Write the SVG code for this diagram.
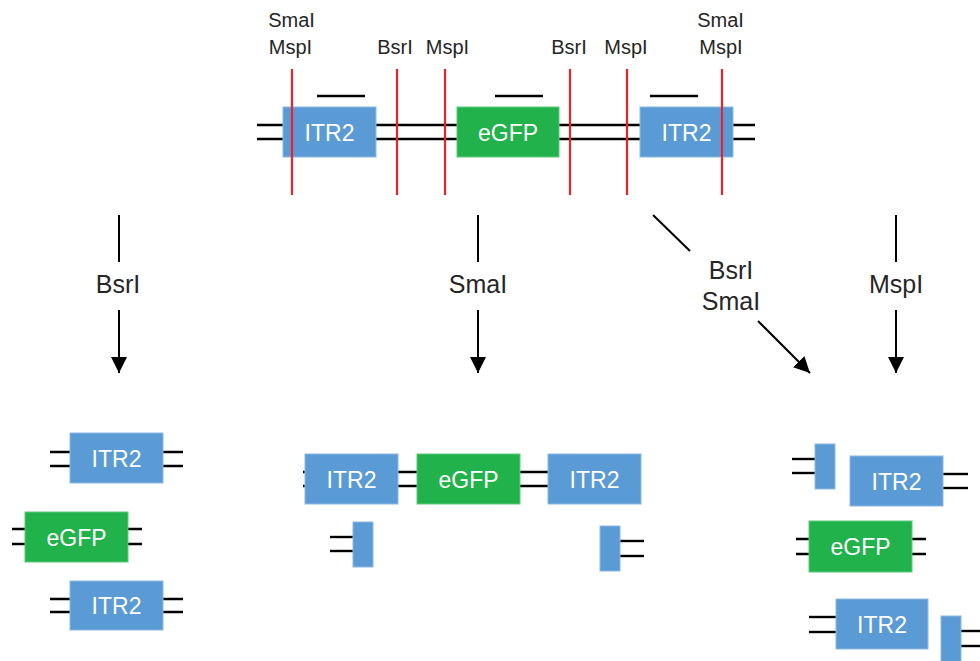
<svg xmlns="http://www.w3.org/2000/svg" width="980" height="661" viewBox="0 0 980 661">
<style>
.itr{fill:#5B9BD5;stroke:#8DB8E2;stroke-width:1}
.gfp{fill:#21B24B;stroke:#5CC97C;stroke-width:1}
.dna{stroke:#000;stroke-width:2.4;fill:none}
.cut{stroke:#EE2128;stroke-width:2.2}
.bar{stroke:#000;stroke-width:2.4}
.arr{stroke:#000;stroke-width:2;fill:none}
.bl{font-family:"Liberation Sans",Arial,sans-serif;font-size:23px;fill:#fff;text-anchor:middle}
.sl{font-family:"Liberation Sans",Arial,sans-serif;font-size:20px;fill:#262626;text-anchor:middle}
.el{font-family:"Liberation Sans",Arial,sans-serif;font-size:25px;fill:#262626;text-anchor:middle}
</style>
<defs>
<marker id="ah2" viewBox="0 0 16 16" markerWidth="16" markerHeight="16" refX="16" refY="8" orient="auto" markerUnits="userSpaceOnUse">
<path d="M0,0 L16,8 L0,16 z" fill="#000"/>
</marker>
</defs>

<g id="connectors">
<line class="arr" x1="119" y1="215" x2="119" y2="262"/>
<line class="arr" x1="119" y1="310" x2="119" y2="373" marker-end="url(#ah2)"/>
<line class="arr" x1="478" y1="215" x2="478" y2="262"/>
<line class="arr" x1="478" y1="310" x2="478" y2="373" marker-end="url(#ah2)"/>
<line class="arr" x1="896" y1="215" x2="896" y2="262"/>
<line class="arr" x1="896" y1="310" x2="896" y2="373" marker-end="url(#ah2)"/>
<line class="arr" x1="653" y1="215" x2="690" y2="251"/>
<line class="arr" x1="758" y1="321" x2="810" y2="373" marker-end="url(#ah2)"/>
</g>

<g id="enzyme-labels">
<text class="el" x="118" y="293">BsrI</text>
<text class="el" x="478" y="293">SmaI</text>
<text class="el" x="896" y="293">MspI</text>
<text class="el" x="731" y="279">BsrI</text>
<text class="el" x="731" y="310">SmaI</text>
</g>

<g id="construct">
<line class="dna" x1="257" y1="125" x2="755" y2="125"/>
<line class="dna" x1="257" y1="139" x2="755" y2="139"/>
<line class="bar" x1="317" y1="96" x2="365" y2="96"/>
<line class="bar" x1="495" y1="96" x2="543" y2="96"/>
<line class="bar" x1="650" y1="96" x2="698" y2="96"/>
<g id="top-itr2-left"><rect class="itr" x="283" y="107" width="93" height="50"/><text class="bl" x="329.5" y="140.5">ITR2</text></g>
<g id="top-egfp"><rect class="gfp" x="457" y="107" width="102" height="50"/><text class="bl" x="508" y="140.5">eGFP</text></g>
<g id="top-itr2-right"><rect class="itr" x="640" y="107" width="93" height="50"/><text class="bl" x="686.5" y="140.5">ITR2</text></g>
<line class="cut" x1="292" y1="69" x2="292" y2="195"/>
<line class="cut" x1="397" y1="69" x2="397" y2="195"/>
<line class="cut" x1="445" y1="69" x2="445" y2="195"/>
<line class="cut" x1="570" y1="69" x2="570" y2="195"/>
<line class="cut" x1="627" y1="69" x2="627" y2="195"/>
<line class="cut" x1="722" y1="69" x2="722" y2="195"/>
<text class="sl" x="291.5" y="27">SmaI</text>
<text class="sl" x="290.5" y="54">MspI</text>
<text class="sl" x="395" y="54">BsrI</text>
<text class="sl" x="447.5" y="54">MspI</text>
<text class="sl" x="569" y="54">BsrI</text>
<text class="sl" x="626" y="54">MspI</text>
<text class="sl" x="720.5" y="27">SmaI</text>
<text class="sl" x="721" y="54">MspI</text>
</g>

<g id="bsri-products">
<g id="b-itr2-1">
<line class="dna" x1="50" y1="452" x2="183" y2="452"/><line class="dna" x1="50" y1="466" x2="183" y2="466"/>
<rect class="itr" x="70" y="433" width="93" height="50"/><text class="bl" x="116.5" y="466.5">ITR2</text></g>
<g id="b-egfp">
<line class="dna" x1="12" y1="529" x2="142" y2="529"/><line class="dna" x1="12" y1="544" x2="142" y2="544"/>
<rect class="gfp" x="25" y="512" width="103" height="50"/><text class="bl" x="76.5" y="545.5">eGFP</text></g>
<g id="b-itr2-2">
<line class="dna" x1="50" y1="599" x2="183" y2="599"/><line class="dna" x1="50" y1="612" x2="183" y2="612"/>
<rect class="itr" x="70" y="581" width="93" height="49"/><text class="bl" x="116.5" y="614">ITR2</text></g>
</g>

<g id="smai-products">
<g id="s-main">
<line class="dna" x1="303" y1="472" x2="548" y2="472"/><line class="dna" x1="303" y1="486" x2="548" y2="486"/>
<rect class="itr" x="305" y="454" width="93" height="50"/><text class="bl" x="351.5" y="487.5">ITR2</text>
<rect class="gfp" x="417" y="454" width="103" height="50"/><text class="bl" x="468.5" y="487.5">eGFP</text>
<rect class="itr" x="548" y="454" width="93" height="50"/><text class="bl" x="594.5" y="487.5">ITR2</text>
</g>
<g id="s-frag-left">
<line class="dna" x1="330" y1="537" x2="353" y2="537"/><line class="dna" x1="330" y1="551" x2="353" y2="551"/>
<rect class="itr" x="353" y="522" width="20" height="45"/></g>
<g id="s-frag-right">
<line class="dna" x1="620" y1="541" x2="644" y2="541"/><line class="dna" x1="620" y1="556" x2="644" y2="556"/>
<rect class="itr" x="600" y="526" width="20" height="45"/></g>
</g>

<g id="combo-products">
<g id="c-frag-1">
<line class="dna" x1="792" y1="459" x2="815" y2="459"/><line class="dna" x1="792" y1="473" x2="815" y2="473"/>
<rect class="itr" x="815" y="444" width="20" height="45"/></g>
<g id="c-itr2-1">
<line class="dna" x1="943" y1="474" x2="968" y2="474"/><line class="dna" x1="943" y1="488" x2="968" y2="488"/>
<rect class="itr" x="850" y="456" width="93" height="50"/><text class="bl" x="896.5" y="489.5">ITR2</text></g>
<g id="c-egfp">
<line class="dna" x1="796" y1="539" x2="926" y2="539"/><line class="dna" x1="796" y1="554" x2="926" y2="554"/>
<rect class="gfp" x="809" y="521" width="103" height="51"/><text class="bl" x="860.5" y="555">eGFP</text></g>
<g id="c-itr2-2">
<line class="dna" x1="809" y1="617" x2="836" y2="617"/><line class="dna" x1="809" y1="632" x2="836" y2="632"/>
<rect class="itr" x="836" y="599" width="92" height="50"/><text class="bl" x="882" y="632.5">ITR2</text></g>
<g id="c-frag-2">
<line class="dna" x1="961" y1="631" x2="980" y2="631"/><line class="dna" x1="961" y1="646" x2="980" y2="646"/>
<rect class="itr" x="941" y="616" width="20" height="47"/></g>
</g>
</svg>
